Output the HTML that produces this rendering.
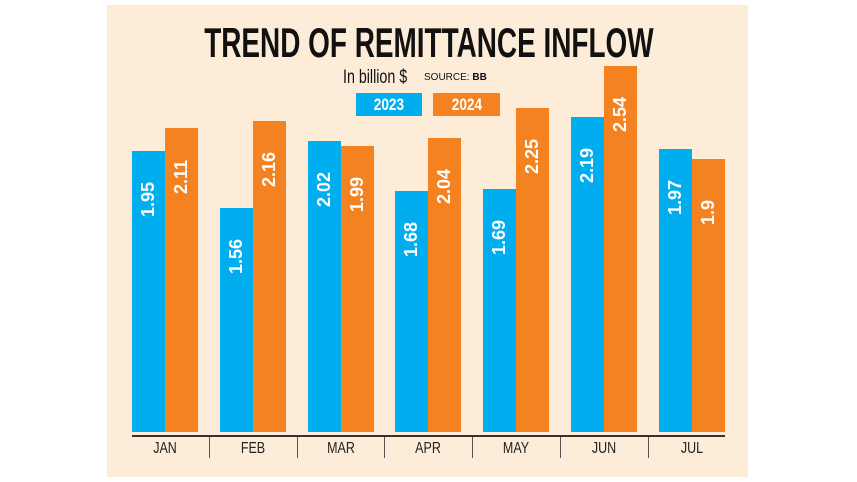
<!DOCTYPE html>
<html><head><meta charset="utf-8"><style>
body{margin:0;width:857px;height:482px;background:#fff;position:relative;overflow:hidden;font-family:"Liberation Sans",sans-serif}
#p{position:absolute;left:107px;top:5px;width:641px;height:472px;background:#fcecd8}
.t{position:absolute;left:0;width:857px;text-align:center}
.b{position:absolute;bottom:50px}
.bl{background:#00aeef}.or{background:#f58220}
.v{position:absolute;color:#fff;font-weight:bold;font-size:18px;white-space:nowrap;transform-origin:0 0;transform:rotate(-90deg)}
.sep{position:absolute;top:436px;width:1px;height:22px;background:#555}
.m{position:absolute;top:440px;width:60px;text-align:center;font-size:16px;color:#222;transform:scaleX(0.78)}
</style></head><body>
<div id="p"></div>
<div class="t" style="top:19px;font-size:42px;font-weight:bold;color:#111;"><span style="display:inline-block;transform:scaleX(0.665)">TREND OF REMITTANCE INFLOW</span></div>
<div style="position:absolute;left:343px;top:67px;font-size:19px;color:#111;transform:scaleX(0.75);transform-origin:0 0">In billion $</div>
<div style="position:absolute;left:424px;top:72px;font-size:10px;color:#111">SOURCE: <b>BB</b></div>
<div style="position:absolute;left:356px;top:93px;width:66px;height:23px;background:#00aeef;color:#fff;font-weight:bold;font-size:17px;text-align:center;line-height:23px"><span style="display:inline-block;transform:scaleX(0.8)">2023</span></div>
<div style="position:absolute;left:433px;top:93px;width:67px;height:23px;background:#f58220;color:#fff;font-weight:bold;font-size:17px;text-align:center;line-height:23px"><span style="display:inline-block;transform:scaleX(0.8)">2024</span></div>
<div id="bars"></div>
<div style="position:absolute;left:132px;top:435px;width:593px;height:1.5px;background:#333"></div>
<script>
var a=[1.95,1.56,2.02,1.68,1.69,2.19,1.97],b=[2.11,2.16,1.99,2.04,2.25,2.54,1.9],m=["JAN","FEB","MAR","APR","MAY","JUN","JUL"];
var h='';
for(var i=0;i<7;i++){var x=132+i*87.8;
function bar(x,v,c){var top=434-144.9*v;var hh=432-top;
return '<div class="b '+c+'" style="left:'+x+'px;top:'+top+'px;width:33px;height:'+hh+'px;position:absolute"></div>'+
'<div class="v" style="left:'+(x+6)+'px;top:'+(top+24+42)+'px">'+v+'</div>';}
h+=bar(x,a[i],'bl')+bar(x+33,b[i],'or');
h+='<div class="m" style="left:'+(x+3)+'px">'+m[i]+'</div>';
if(i>0)h+='<div class="sep" style="left:'+(x-11)+'px"></div>';}
document.getElementById('bars').innerHTML=h;
</script>
</body></html>
